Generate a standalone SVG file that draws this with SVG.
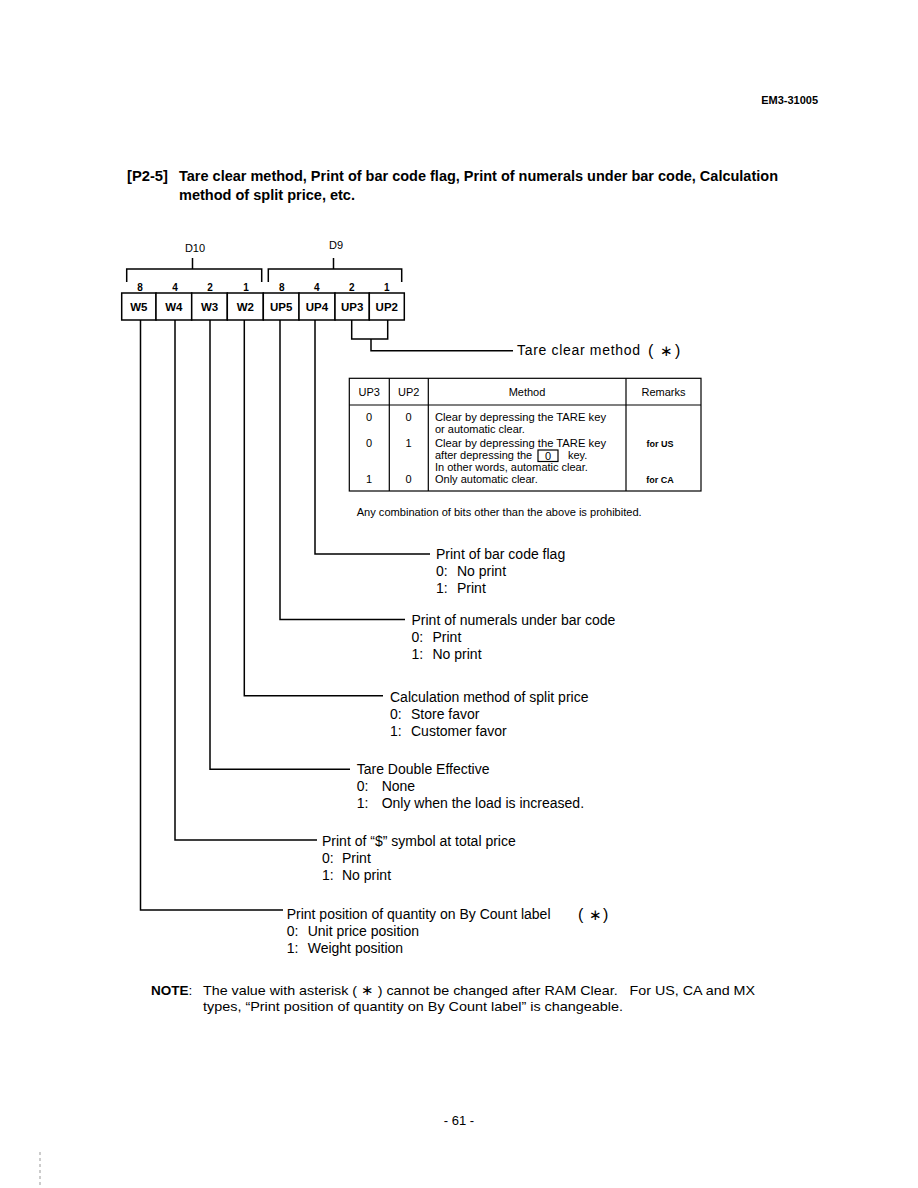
<svg xmlns="http://www.w3.org/2000/svg" width="918" height="1188" viewBox="0 0 918 1188">
<style>
text{font-family:"Liberation Sans",Arial,sans-serif;fill:#000}
.lbl{font-size:14px}
.tb{font-size:11px}
.cell{fill:#fff;stroke:#000;stroke-width:1.5}
.ln{fill:none;stroke:#000;stroke-width:1.5}
.tl{fill:none;stroke:#000;stroke-width:1.2}
.bit{font-size:10px;font-weight:bold;text-anchor:middle}
.cl{font-size:11.5px;font-weight:bold;text-anchor:middle}
.mid{text-anchor:middle}
</style>
<rect width="918" height="1188" fill="#fff"/>

<g id="header">
<text x="818" y="104" font-size="11" font-weight="bold" text-anchor="end">EM3-31005</text>
</g>

<g id="title" font-weight="bold" font-size="14">
<text x="127" y="181" textLength="41" lengthAdjust="spacingAndGlyphs">[P2-5]</text>
<text x="179" y="181" textLength="599" lengthAdjust="spacingAndGlyphs">Tare clear method, Print of bar code flag, Print of numerals under bar code, Calculation</text>
<text x="179" y="200" textLength="176" lengthAdjust="spacingAndGlyphs">method of split price, etc.</text>
</g>

<g id="brackets">
<text x="195" y="252" font-size="11" class="mid">D10</text>
<text x="336" y="249" font-size="11" class="mid">D9</text>
<path class="ln" d="M126.7,282 V269 H261.7 V282 M192.5,258 V269"/>
<path class="ln" d="M268.3,282 V269 H401.7 V282 M333.5,258 V269"/>
<text class="bit" x="140" y="290.5">8</text>
<text class="bit" x="175" y="290.5">4</text>
<text class="bit" x="210" y="290.5">2</text>
<text class="bit" x="246" y="290.5">1</text>
<text class="bit" x="281.7" y="290.5">8</text>
<text class="bit" x="316.7" y="290.5">4</text>
<text class="bit" x="351.7" y="290.5">2</text>
<text class="bit" x="386.7" y="290.5">1</text>
</g>

<g id="cell-W5"><rect class="cell" x="121.7" y="293" width="34.3" height="27"/><text class="cl" x="138.9" y="311">W5</text></g>
<g id="cell-W4"><rect class="cell" x="156" y="293" width="35.7" height="27"/><text class="cl" x="173.9" y="311">W4</text></g>
<g id="cell-W3"><rect class="cell" x="191.7" y="293" width="35.6" height="27"/><text class="cl" x="209.5" y="311">W3</text></g>
<g id="cell-W2"><rect class="cell" x="227.3" y="293" width="36" height="27"/><text class="cl" x="245.3" y="311">W2</text></g>
<g id="cell-UP5"><rect class="cell" x="263.3" y="293" width="35.7" height="27"/><text class="cl" x="281.2" y="311">UP5</text></g>
<g id="cell-UP4"><rect class="cell" x="299" y="293" width="36" height="27"/><text class="cl" x="317" y="311">UP4</text></g>
<g id="cell-UP3"><rect class="cell" x="335" y="293" width="34.3" height="27"/><text class="cl" x="352.2" y="311">UP3</text></g>
<g id="cell-UP2"><rect class="cell" x="369.3" y="293" width="35" height="27"/><text class="cl" x="386.8" y="311">UP2</text></g>

<g id="connectors">
<path class="ln" d="M351.7,320 V339 H387.7 V320 M371,339 V350.7 H513"/>
<path class="ln" d="M315,320 V554 H430"/>
<path class="ln" d="M280,320 V619.5 H405"/>
<path class="ln" d="M244.3,320 V695.7 H383"/>
<path class="ln" d="M210,320 V769.3 H350"/>
<path class="ln" d="M175,320 V840 H317"/>
<path class="ln" d="M140.5,320 V910 H283"/>
</g>

<g id="label-tare-clear">
<text class="lbl" x="517" y="355" textLength="123" lengthAdjust="spacing">Tare clear method</text>
<text x="648" y="356" font-size="16">(</text>
<text x="660" y="356" font-size="15">∗</text>
<text x="675" y="356" font-size="16">)</text>
</g>

<g id="table">
<rect class="tl" x="349.3" y="378.3" width="351.7" height="112.7"/>
<path class="tl" d="M389.3,378.3 V491 M428.3,378.3 V491 M626,378.3 V491 M349.3,405 H701"/>
<text class="tb mid" x="369.3" y="396">UP3</text>
<text class="tb mid" x="408.8" y="396">UP2</text>
<text class="tb mid" x="527" y="396">Method</text>
<text class="tb mid" x="663.5" y="396">Remarks</text>
<text class="tb mid" x="369" y="421">0</text>
<text class="tb mid" x="408.5" y="421">0</text>
<text class="tb mid" x="369" y="447">0</text>
<text class="tb mid" x="408.5" y="447">1</text>
<text class="tb mid" x="369" y="483">1</text>
<text class="tb mid" x="408.5" y="483">0</text>
<text class="tb" x="435" y="421" textLength="171" lengthAdjust="spacingAndGlyphs">Clear by depressing the TARE key</text>
<text class="tb" x="435" y="433">or automatic clear.</text>
<text class="tb" x="435" y="447" textLength="171" lengthAdjust="spacingAndGlyphs">Clear by depressing the TARE key</text>
<text class="tb" x="435" y="459">after depressing the</text>
<rect class="tl" x="538" y="450" width="20" height="11.5" stroke-width="1"/>
<text class="tb mid" x="548" y="459.5">0</text>
<text class="tb" x="568" y="459">key.</text>
<text class="tb" x="435" y="471">In other words, automatic clear.</text>
<text class="tb" x="435" y="483">Only automatic clear.</text>
<text class="mid" x="660" y="447" font-size="9" font-weight="bold">for US</text>
<text class="mid" x="660" y="483" font-size="9" font-weight="bold">for CA</text>
<text x="356.7" y="516" font-size="11.5" textLength="285" lengthAdjust="spacingAndGlyphs">Any combination of bits other than the above is prohibited.</text>
</g>

<g id="label-bar-code-flag" class="lbl">
<text x="436" y="559">Print of bar code flag</text>
<text x="436" y="576">0:<tspan x="457">No print</tspan></text>
<text x="436" y="593">1:<tspan x="457">Print</tspan></text>
</g>

<g id="label-numerals" class="lbl">
<text x="411.5" y="625">Print of numerals under bar code</text>
<text x="411.5" y="642">0:<tspan x="432.5">Print</tspan></text>
<text x="411.5" y="659">1:<tspan x="432.5">No print</tspan></text>
</g>

<g id="label-split-price" class="lbl">
<text x="390" y="701.5">Calculation method of split price</text>
<text x="390" y="719">0:<tspan x="411">Store favor</tspan></text>
<text x="390" y="736">1:<tspan x="411">Customer favor</tspan></text>
</g>

<g id="label-tare-double" class="lbl">
<text x="356.7" y="774">Tare Double Effective</text>
<text x="356.7" y="791">0:<tspan x="381.7">None</tspan></text>
<text x="356.7" y="808">1:<tspan x="381.7">Only when the load is increased.</tspan></text>
</g>

<g id="label-dollar" class="lbl">
<text x="322" y="846">Print of “$” symbol at total price</text>
<text x="322" y="863">0:<tspan x="342">Print</tspan></text>
<text x="322" y="880">1:<tspan x="342">No print</tspan></text>
</g>

<g id="label-by-count" class="lbl">
<text x="286.7" y="919">Print position of quantity on By Count label</text>
<text x="578" y="920" font-size="16">(</text>
<text x="589" y="920" font-size="15">∗</text>
<text x="603" y="920" font-size="16">)</text>
<text x="286.7" y="936">0:<tspan x="307.7">Unit price position</tspan></text>
<text x="286.7" y="953">1:<tspan x="307.7">Weight position</tspan></text>
</g>

<g id="note" font-size="13.5">
<text x="151" y="995" font-weight="bold">NOTE<tspan font-weight="normal">:</tspan></text>
<text x="203" y="995" textLength="552" lengthAdjust="spacingAndGlyphs">The value with asterisk ( ∗ ) cannot be changed after RAM Clear.&#160;&#160; For US, CA and MX</text>
<text x="203" y="1011" textLength="420" lengthAdjust="spacingAndGlyphs">types, “Print position of quantity on By Count label” is changeable.</text>
</g>

<g id="footer">
<text x="459" y="1125" font-size="13" class="mid">- 61 -</text>
<path d="M40,1152 V1188" stroke="#999" stroke-width="1" stroke-dasharray="3,3"/>
</g>
</svg>
